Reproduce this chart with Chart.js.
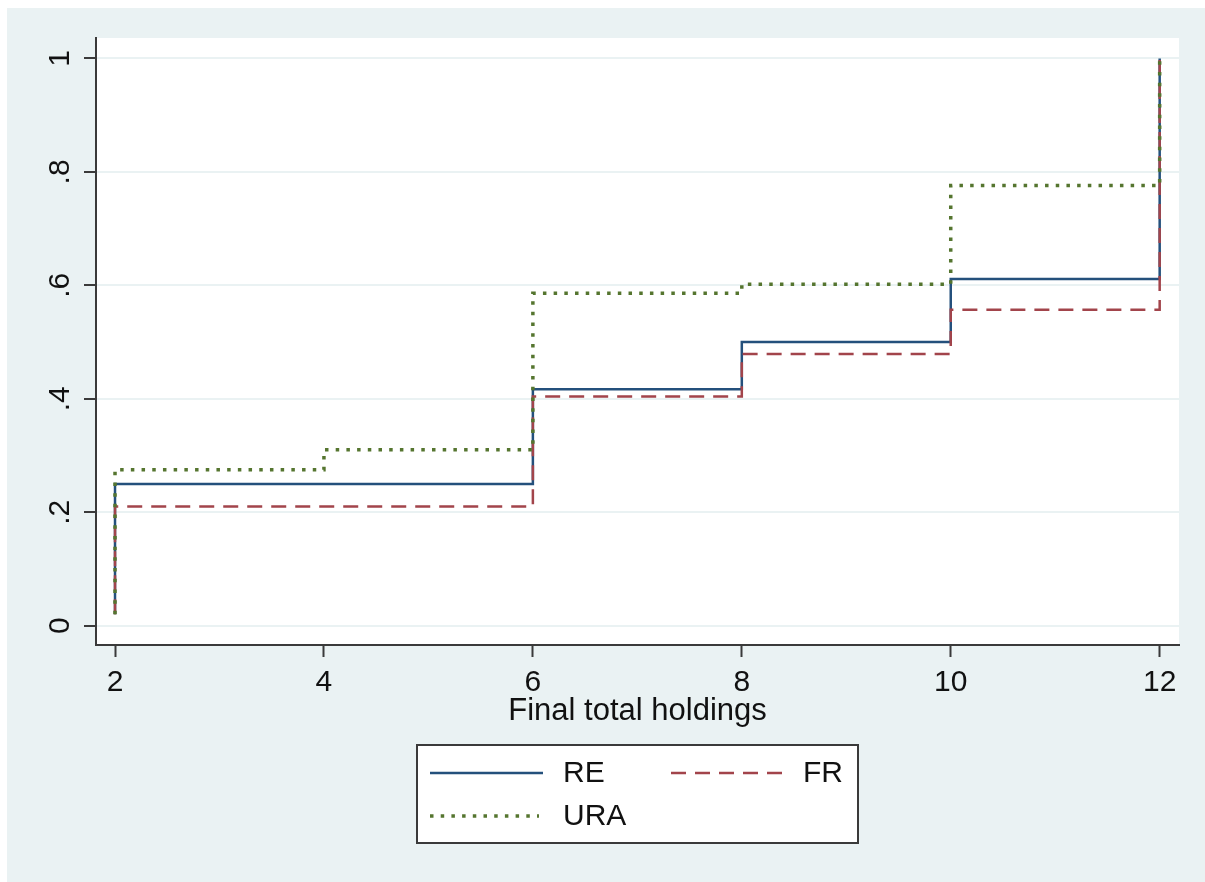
<!DOCTYPE html>
<html>
<head>
<meta charset="utf-8">
<script src="https://cdn.jsdelivr.net/npm/chart.js@4"></script>
<style>
  body { margin: 0; background: #ffffff; }
  canvas { display: block; }
</style>
</head>
<body>
<canvas id="grafico" width="1205" height="882"></canvas>
<script>
// final total holdings (x) and cumulative share for each group
var holdings = [2, 2, 4, 6, 8, 10, 12];
var re  = [0.02, 0.25, 0.25, 0.417, 0.5, 0.611, 1];
var fr  = [0.02, 0.21, 0.21, 0.404, 0.479, 0.557, 1];
var ura = [0.02, 0.275, 0.31, 0.586, 0.602, 0.776, 1];

var xTicks = [2, 4, 6, 8, 10, 12];
var yTicks = [0, 0.2, 0.4, 0.6, 0.8, 1];
var yTickLabels = ["0", ".2", ".4", ".6", ".8", "1"];

var fonte = "'Liberation Sans', Arial, sans-serif";
var corEixo = "#3a3a3a";
var corFundo = "#eaf2f3";

function pontos(valores) {
    var lista = [];
    for (let i = 0; i < holdings.length; i++) {
        lista.push({ x: holdings[i], y: valores[i] });
    }
    return lista;
}

// fundo cinza-azulado e area branca do grafico
const fundo = {
    id: "fundo",
    beforeDraw: function(chart) {
        var ctx = chart.ctx;
        var a = chart.chartArea;
        ctx.save();
        ctx.fillStyle = "#ffffff";
        ctx.fillRect(0, 0, chart.width, chart.height);
        ctx.fillStyle = corFundo;
        ctx.fillRect(7, 8, chart.width - 7, chart.height - 8);
        ctx.fillStyle = "#ffffff";
        ctx.fillRect(a.left, a.top, a.right - a.left, a.bottom - a.top);
        ctx.restore();
    }
};

// legenda em caixa, no estilo do Stata
const legenda = {
    id: "legenda",
    afterDraw: function(chart) {
        var ctx = chart.ctx;
        var ds = chart.data.datasets;
        var pos = [
            { x1: 430, x2: 543, tx: 563, y: 773 },
            { x1: 671, x2: 785, tx: 803, y: 773 },
            { x1: 430, x2: 539, tx: 563, y: 816 }
        ];
        ctx.save();
        ctx.fillStyle = "#ffffff";
        ctx.fillRect(417, 745, 441, 98);
        ctx.strokeStyle = corEixo;
        ctx.lineWidth = 2;
        ctx.strokeRect(417, 745, 441, 98);
        for (let i = 0; i < ds.length; i++) {
            var p = pos[i];
            ctx.beginPath();
            ctx.setLineDash(ds[i].borderDash || []);
            ctx.lineWidth = ds[i].borderWidth;
            ctx.strokeStyle = ds[i].borderColor;
            ctx.moveTo(p.x1, p.y);
            ctx.lineTo(p.x2, p.y);
            ctx.stroke();
            ctx.setLineDash([]);
            ctx.fillStyle = "#111111";
            ctx.font = "30px " + fonte;
            ctx.textBaseline = "middle";
            ctx.textAlign = "left";
            ctx.fillText(ds[i].label, p.tx, p.y + 1);
        }
        ctx.restore();
    }
};

const config = {
    type: "line",
    data: {
        datasets: [
            {
                label: "RE",
                data: pontos(re),
                borderColor: "#24507c",
                borderWidth: 2.5,
                stepped: true,
                pointRadius: 0,
                order: 3
            },
            {
                label: "FR",
                data: pontos(fr),
                borderColor: "#a2444b",
                borderWidth: 2.5,
                borderDash: [15, 9],
                stepped: true,
                pointRadius: 0,
                order: 2
            },
            {
                label: "URA",
                data: pontos(ura),
                borderColor: "#55752f",
                borderWidth: 3.5,
                borderDash: [3.5, 7.2],
                stepped: true,
                pointRadius: 0,
                order: 1
            }
        ]
    },
    options: {
        responsive: false,
        animation: false,
        devicePixelRatio: 1,
        layout: { padding: { left: 20, right: 26, top: 38, bottom: 137 } },
        plugins: {
            legend: { display: false },
            tooltip: { enabled: false }
        },
        scales: {
            x: {
                type: "linear",
                min: 1.818,
                max: 12.185,
                afterBuildTicks: function(s) { s.ticks = xTicks.map(function(v) { return { value: v }; }); },
                afterFit: function(s) { s.height = 100; },
                border: { display: true, color: corEixo, width: 2 },
                grid: { drawOnChartArea: false, drawTicks: true, tickLength: 12, tickColor: corEixo, tickWidth: 2 },
                ticks: {
                    autoSkip: false,
                    maxRotation: 0,
                    padding: 8,
                    color: "#111111",
                    font: { family: fonte, size: 30 },
                    callback: function(v) { return String(v); }
                },
                title: {
                    display: true,
                    text: "Final total holdings",
                    color: "#111111",
                    font: { family: fonte, size: 31 },
                    padding: { top: 0, bottom: 15 }
                }
            },
            y: {
                type: "linear",
                min: -0.034,
                max: 1.036,
                afterBuildTicks: function(s) { s.ticks = yTicks.map(function(v) { return { value: v }; }); },
                afterFit: function(s) { s.width = 76; },
                border: { display: true, color: corEixo, width: 2 },
                grid: { color: corFundo, lineWidth: 2, drawTicks: true, tickLength: 12, tickColor: corEixo, tickWidth: 2 },
                ticks: {
                    autoSkip: false,
                    minRotation: 90,
                    maxRotation: 90,
                    crossAlign: "center",
                    padding: 11,
                    color: "#111111",
                    font: { family: fonte, size: 30 },
                    callback: function(v, i) { return yTickLabels[i]; }
                }
            }
        }
    },
    plugins: [fundo, legenda]
};

var meuGrafico = new Chart(document.getElementById("grafico"), config);
</script>
</body>
</html>
